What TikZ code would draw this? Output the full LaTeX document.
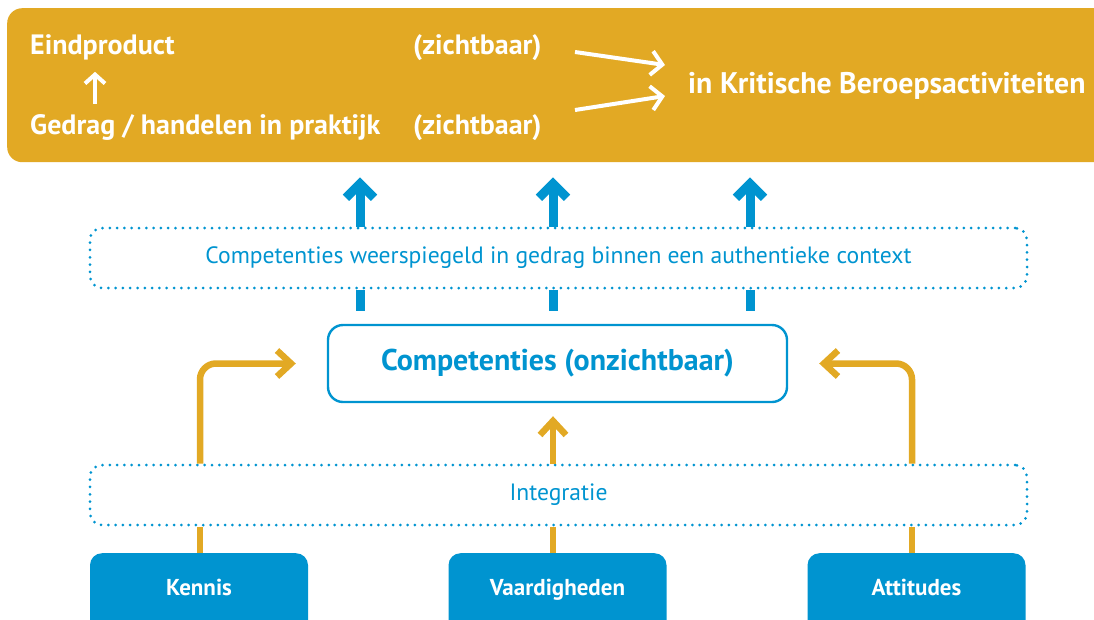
\documentclass[tikz,border=0pt]{standalone}
\usepackage{fontspec}
\setmainfont{PT Sans}
\usetikzlibrary{arrows.meta}
\definecolor{gold}{HTML}{E2A924}
\definecolor{cblue}{HTML}{0094D0}
\begin{document}
\begin{tikzpicture}[x=1pt,y=-1pt,
  whitetext/.style={text=white,font=\bfseries\fontsize{28}{32}\selectfont,inner sep=0pt,anchor=base west},
  dotbox/.style={draw=cblue,line width=3pt,dash pattern=on 0pt off 7.3pt,line cap=round,rounded corners=12pt,minimum width=937pt,minimum height=60pt,text=cblue,font=\fontsize{23.6}{28}\selectfont},
  compbox/.style={draw=cblue,line width=2.4pt,rounded corners=15pt,minimum width=459pt,minimum height=77pt,text=cblue,font=\bfseries\fontsize{30}{34}\selectfont},
  botbox/.style={fill=cblue,rounded corners=12pt,minimum width=218pt,minimum height=90pt,inner sep=0pt},
  bottext/.style={text=white,font=\bfseries\fontsize{23}{27}\selectfont,inner sep=0pt,anchor=base},
  bluearrow/.style={cblue,line width=9pt,-{Straight Barb[length=14pt,width=28pt]}},
  blueline/.style={cblue,line width=9pt},
  goldarrow/.style={gold,line width=6.5pt,rounded corners=16pt,-{Straight Barb[length=14pt,width=26pt]}},
  goldline/.style={gold,line width=6.5pt},
  whitearrow/.style={white,line width=4pt,-{Straight Barb[length=11pt,width=24pt]}}
]
\useasboundingbox (0,0) rectangle (1094,619);
% gold banner
\node[fill=gold,rounded corners=15pt,minimum width=1110pt,minimum height=154pt,anchor=north west,inner sep=0pt] (gold) at (7,8) {};
\node[whitetext] (eind) at (30,54) {Eindproduct};
\node[whitetext] (gedrag) at (30,134) {Gedrag / handelen in praktijk};
\node[whitetext] (z1) at (413,54) {(zichtbaar)};
\node[whitetext] (z2) at (413,134) {(zichtbaar)};
\node[whitetext,font=\bfseries\fontsize{29.8}{34}\selectfont] (kba) at (688,93) {in Kritische Beroepsactiviteiten};
\coordinate (w1s) at (575,52);
\coordinate (w1e) at (665,65);
\coordinate (w2s) at (575,110);
\coordinate (w2e) at (665,96);
\draw[whitearrow] (w1s) -- (w1e);
\draw[whitearrow] (w2s) -- (w2e);
\coordinate (ua) at (95,0);
\draw[white,line width=4pt,-{Straight Barb[length=9pt,width=20pt]},shorten <=10pt,shorten >=12pt] (gedrag.north -| ua) -- (eind.south -| ua);
% middle layers
\node[dotbox] (ctx) at (558.5,258) {Competenties weerspiegeld in gedrag binnen een authentieke context};
\node[compbox] (comp) at (557.5,363.5) {Competenties (onzichtbaar)};
\node[dotbox] (integ) at (558.5,495) {Integratie};
% blue arrows
\coordinate (xa) at (360,0);
\coordinate (xb) at (553,0);
\coordinate (xc) at (750,0);
\foreach \c in {xa,xb,xc}{
  \draw[bluearrow,shorten >=15pt] (ctx.north -| \c) -- (gold.south -| \c);
  \draw[blueline,shorten <=13pt] (comp.north -| \c) -- (ctx.south -| \c);
}
% bottom boxes
\node[botbox,anchor=north] (kennis) at (199,553) {};
\node[botbox,anchor=north] (vaard) at (557.5,553) {};
\node[botbox,anchor=north] (att) at (916.5,553) {};
\node[bottext] (kennisl) at ([yshift=-42pt]kennis.north) {Kennis};
\node[bottext] (vaardl) at ([yshift=-42pt]vaard.north) {Vaardigheden};
\node[bottext] (attl) at ([yshift=-42pt]att.north) {Attitudes};
\coordinate (xk) at (200,0);
\coordinate (xv) at (553,0);
\coordinate (xt) at (912,0);
\draw[goldline] (kennis.north -| xk) -- (integ.south -| xk);
\draw[goldline] (vaard.north -| xv) -- (integ.south -| xv);
\draw[goldline] (att.north -| xt) -- (integ.south -| xt);
\draw[goldarrow,shorten >=31pt] (integ.north -| xk) |- (comp.west);
\draw[goldarrow,shorten >=31pt] (integ.north -| xt) |- (comp.east);
\draw[goldarrow,shorten >=13pt] (integ.north -| xv) -- (comp.south -| xv);
\end{tikzpicture}
\end{document}
